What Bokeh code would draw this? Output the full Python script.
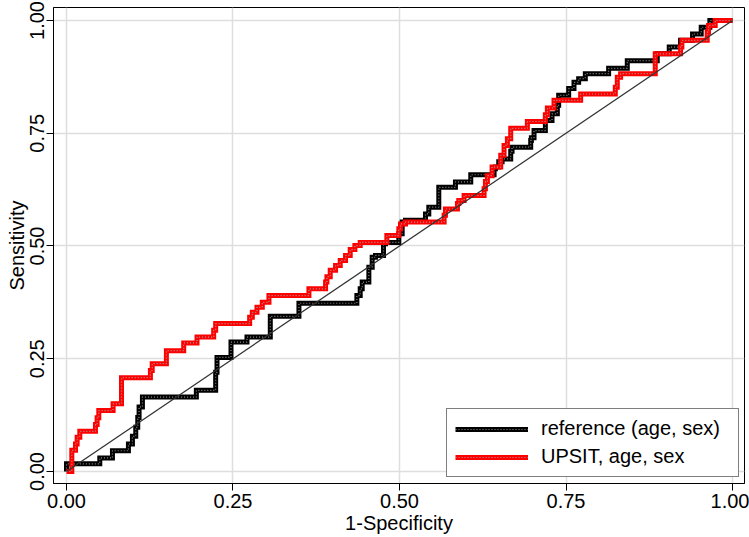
from bokeh.plotting import figure
from bokeh.models import Range1d, FixedTicker, Legend, LegendItem, ColumnDataSource
from bokeh.embed import file_html
from bokeh.resources import INLINE

# ---- data ----
ref_x = [0.0, 0.007, 0.050, 0.051, 0.069, 0.070, 0.093, 0.099, 0.104, 0.107, 0.109, 0.114, 0.120,
         0.195, 0.197, 0.224, 0.226, 0.231, 0.247, 0.249, 0.271, 0.272, 0.306, 0.308, 0.349, 0.354,
         0.436, 0.441, 0.444, 0.454, 0.459, 0.464, 0.476, 0.479, 0.499, 0.504, 0.509, 0.517, 0.539,
         0.540, 0.544, 0.545, 0.559, 0.561, 0.584, 0.586, 0.607, 0.609, 0.642, 0.644, 0.649, 0.654,
         0.667, 0.669, 0.679, 0.697, 0.698, 0.702, 0.703, 0.719, 0.721, 0.729, 0.731, 0.737, 0.739,
         0.744, 0.754, 0.756, 0.762, 0.764, 0.769, 0.771, 0.779, 0.781, 0.814, 0.816, 0.842, 0.844,
         0.887, 0.890, 0.905, 0.907, 0.922, 0.925, 0.940, 0.943, 0.953, 0.956, 0.966, 0.969, 1.0]
ref_y = [0.0, 0.017, 0.017, 0.030, 0.030, 0.046, 0.046, 0.061, 0.078, 0.098, 0.120, 0.143, 0.165,
         0.165, 0.180, 0.180, 0.220, 0.253, 0.253, 0.287, 0.287, 0.298, 0.298, 0.344, 0.344, 0.373,
         0.373, 0.390, 0.405, 0.420, 0.453, 0.475, 0.479, 0.505, 0.508, 0.527, 0.553, 0.557, 0.557,
         0.571, 0.571, 0.586, 0.586, 0.630, 0.630, 0.642, 0.642, 0.658, 0.658, 0.671, 0.675, 0.687,
         0.693, 0.710, 0.719, 0.719, 0.734, 0.740, 0.756, 0.756, 0.778, 0.778, 0.793, 0.793, 0.812,
         0.834, 0.834, 0.849, 0.849, 0.863, 0.863, 0.871, 0.871, 0.882, 0.882, 0.894, 0.894, 0.911,
         0.911, 0.926, 0.926, 0.941, 0.941, 0.956, 0.956, 0.970, 0.970, 0.985, 0.985, 1.0, 1.0]

ups_x = [0.0, 0.008, 0.008, 0.0135, 0.016, 0.020, 0.025, 0.0435, 0.046, 0.0485, 0.056, 0.070, 0.0735,
         0.0826, 0.0826, 0.090, 0.126, 0.1287, 0.136, 0.150, 0.151, 0.176, 0.179, 0.196, 0.198, 0.221,
         0.224, 0.235, 0.275, 0.279, 0.286, 0.294, 0.304, 0.309, 0.364, 0.366, 0.389, 0.391, 0.396,
         0.404, 0.411, 0.419, 0.426, 0.433, 0.441, 0.449, 0.481, 0.484, 0.499, 0.5015, 0.509, 0.514,
         0.567, 0.569, 0.574, 0.587, 0.589, 0.597, 0.604, 0.627, 0.629, 0.632, 0.639, 0.652, 0.657,
         0.662, 0.667, 0.672, 0.692, 0.694, 0.719, 0.722, 0.724, 0.732, 0.734, 0.772, 0.774, 0.824,
         0.827, 0.832, 0.834, 0.884, 0.886, 0.922, 0.924, 0.929, 0.962, 0.964, 0.974, 0.979, 1.0]
ups_y = [0.0, 0.0, 0.043, 0.047, 0.061, 0.076, 0.089, 0.089, 0.104, 0.119, 0.135, 0.135, 0.150,
         0.150, 0.194, 0.208, 0.208, 0.224, 0.239, 0.239, 0.268, 0.268, 0.285, 0.285, 0.298, 0.298,
         0.313, 0.328, 0.328, 0.342, 0.353, 0.364, 0.375, 0.390, 0.390, 0.405, 0.405, 0.420, 0.432,
         0.446, 0.457, 0.468, 0.479, 0.492, 0.501, 0.508, 0.508, 0.523, 0.523, 0.538, 0.549, 0.553,
         0.553, 0.568, 0.582, 0.582, 0.594, 0.601, 0.612, 0.612, 0.627, 0.643, 0.656, 0.675, 0.701,
         0.723, 0.738, 0.761, 0.761, 0.776, 0.776, 0.791, 0.806, 0.806, 0.823, 0.823, 0.837, 0.837,
         0.852, 0.874, 0.882, 0.882, 0.926, 0.926, 0.941, 0.956, 0.956, 0.974, 0.989, 1.0, 1.0]

diag_x = [0.0, 1.0]
diag_y = [0.0, 1.0]

tick_values = [0.0, 0.25, 0.5, 0.75, 1.0]
tick_labels = ["0.00", "0.25", "0.50", "0.75", "1.00"]
series_labels = ["reference (age, sex)", "UPSIT, age, sex"]
x_title = "1-Specificity"
y_title = "Sensitivity"


def stairs(xs, ys):
    """ROC curves are step paths: each rise between read vertices is drawn as a step."""
    ox, oy = [xs[0]], [ys[0]]
    for i in range(1, len(xs)):
        if xs[i] > xs[i - 1] and ys[i] > ys[i - 1]:
            ox.append(xs[i - 1])
            oy.append(ys[i])
        ox.append(xs[i])
        oy.append(ys[i])
    return ox, oy


FONT = "Liberation Sans"
FS = "20px"

p = figure(width=749, height=537,
           x_range=Range1d(-0.0195, 1.018), y_range=Range1d(-0.0266, 1.0288),
           output_backend="svg", toolbar_location=None,
           min_border_left=53, min_border_top=7, min_border_right=5, min_border_bottom=54,
           background_fill_color="white", border_fill_color="white")
p.outline_line_color = "black"
p.outline_line_width = 1

for ax in (p.xaxis[0], p.yaxis[0]):
    ax.ticker = FixedTicker(ticks=tick_values)
    ax.major_label_overrides = {v: l for v, l in zip(tick_values, tick_labels)}
    ax.major_tick_in = 0
    ax.major_tick_out = 7
    ax.minor_tick_line_color = None
    ax.axis_line_color = "black"
    ax.major_tick_line_color = "black"
    ax.major_label_text_font = FONT
    ax.major_label_text_font_size = FS
    ax.major_label_text_color = "black"
    ax.axis_label_text_font = FONT
    ax.axis_label_text_font_size = FS
    ax.axis_label_text_font_style = "normal"
    ax.axis_label_text_color = "black"

p.xaxis.major_label_standoff = 3
p.xaxis.axis_label_standoff = 1
p.yaxis.major_label_standoff = 2
p.yaxis.axis_label_standoff = 0

p.xaxis.axis_label = x_title
p.yaxis.axis_label = y_title
p.yaxis.major_label_orientation = "vertical"

p.xgrid.ticker = FixedTicker(ticks=tick_values)
p.ygrid.ticker = FixedTicker(ticks=tick_values)
for g in (p.xgrid[0], p.ygrid[0]):
    g.grid_line_color = "#dedede"
    g.grid_line_width = 1.5

rx, ry = stairs(ref_x, ref_y)
ux, uy = stairs(ups_x, ups_y)
src_ref = ColumnDataSource(dict(x=rx, y=ry))
src_ups = ColumnDataSource(dict(x=ux, y=uy))

r1 = p.line("x", "y", source=src_ref, line_color="black", line_width=5, line_join="miter")
r1d = p.line("x", "y", source=src_ref, line_color="#8c8c8c", line_width=1.2, line_dash="1 2")
r2 = p.line("x", "y", source=src_ups, line_color="#ff0000", line_width=5, line_join="miter")
r2d = p.line("x", "y", source=src_ups, line_color="#a0a0a0", line_width=1.2, line_dash="1 2")
p.line(diag_x, diag_y, line_color="#333333", line_width=1.3)

legend = Legend(items=[LegendItem(label=series_labels[0], renderers=[r1, r1d]),
                       LegendItem(label=series_labels[1], renderers=[r2, r2d])],
                location=(393, 6))
legend.border_line_color = "black"
legend.border_line_width = 1
legend.background_fill_color = "white"
legend.background_fill_alpha = 1
legend.label_text_font = FONT
legend.label_text_font_size = FS
legend.label_text_color = "black"
legend.glyph_width = 73
legend.glyph_height = 22
legend.label_height = 22
legend.label_width = 189
legend.label_standoff = 13
legend.padding = 8
legend.spacing = 5
legend.margin = 0
p.add_layout(legend, "center")

open("out.html", "w").write(file_html(p, INLINE))
